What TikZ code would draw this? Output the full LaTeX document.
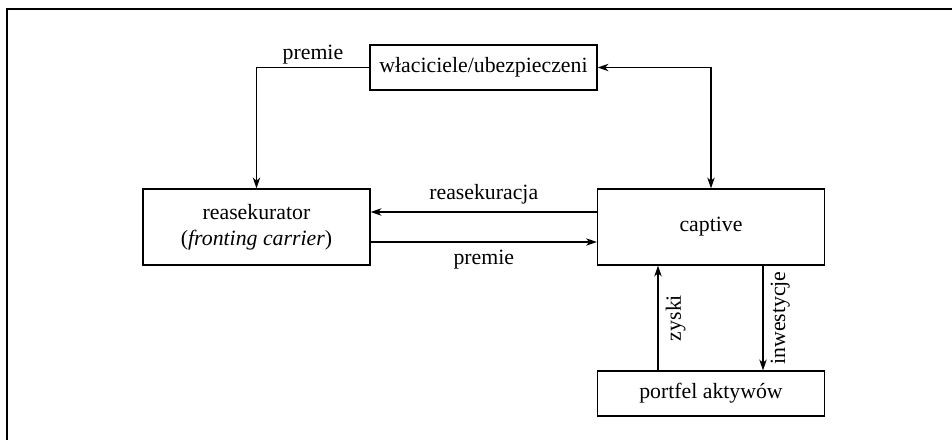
\documentclass[tikz,border=0pt]{standalone}
\usepackage{fontspec}
\setmainfont{Liberation Serif}
\usetikzlibrary{arrows.meta}
\usetikzlibrary{positioning}

\begin{document}
\begin{tikzpicture}[
        box/.style={draw, line width=0.7pt, minimum width=4.54cm, align=center, inner sep=0pt},
        flow/.style={line width=0.7pt, -{Stealth[length=0.22cm, width=0.15cm, inset=0.07cm]}},
        both/.style={line width=0.7pt, {Stealth[length=0.22cm, width=0.15cm, inset=0.07cm]}-{Stealth[length=0.22cm, width=0.15cm, inset=0.07cm]}},
        font=\fontsize{12.4}{14.8}\selectfont
    ]
    \useasboundingbox (0,0) rectangle (19.04,-8.8);
    \clip (0,0) rectangle (19.04,-8.8);

    % Frame
    \draw[line width=0.7pt] (0.14,-9) -- (0.14,-0.18) -- (19.2,-0.18);

    % Boxes
    \node[box, minimum height=0.9cm] (owners) at (9.67,-1.35) {właciciele/ubezpieczeni};
    \node[box, minimum height=1.52cm] (reins) at (5.13,-4.54) {reasekurator\\(\textit{fronting carrier})};
    \node[box, minimum height=1.52cm] (captive) at (14.22,-4.54) {captive};
    \node[box, minimum height=0.9cm] (assets) at (14.22,-7.87) {portfel aktywów};

    % Flows between owners and the two insurers
    \draw[flow] (owners.west) -| node[pos=0.25, above=-2pt] {premie} (reins.north);
    \draw[both] (owners.east) -| (captive.north);

    % Reinsurance and premiums
    \draw[flow] ([yshift=0.3cm]captive.west) -- node[above=1pt] {reasekuracja} ([yshift=0.3cm]reins.east);
    \draw[flow] ([yshift=-0.3cm]reins.east) -- node[below=1pt] {premie} ([yshift=-0.3cm]captive.west);

    % Investments
    \draw[flow] ([xshift=-1.06cm]assets.north) -- node[rotate=90, anchor=north, inner sep=4pt] {zyski} ([xshift=-1.06cm]captive.south);
    \draw[flow] ([xshift=1.04cm]captive.south) -- node[rotate=90, anchor=north, inner sep=4pt] {inwestycje} ([xshift=1.04cm]assets.north);
\end{tikzpicture}
\end{document}
